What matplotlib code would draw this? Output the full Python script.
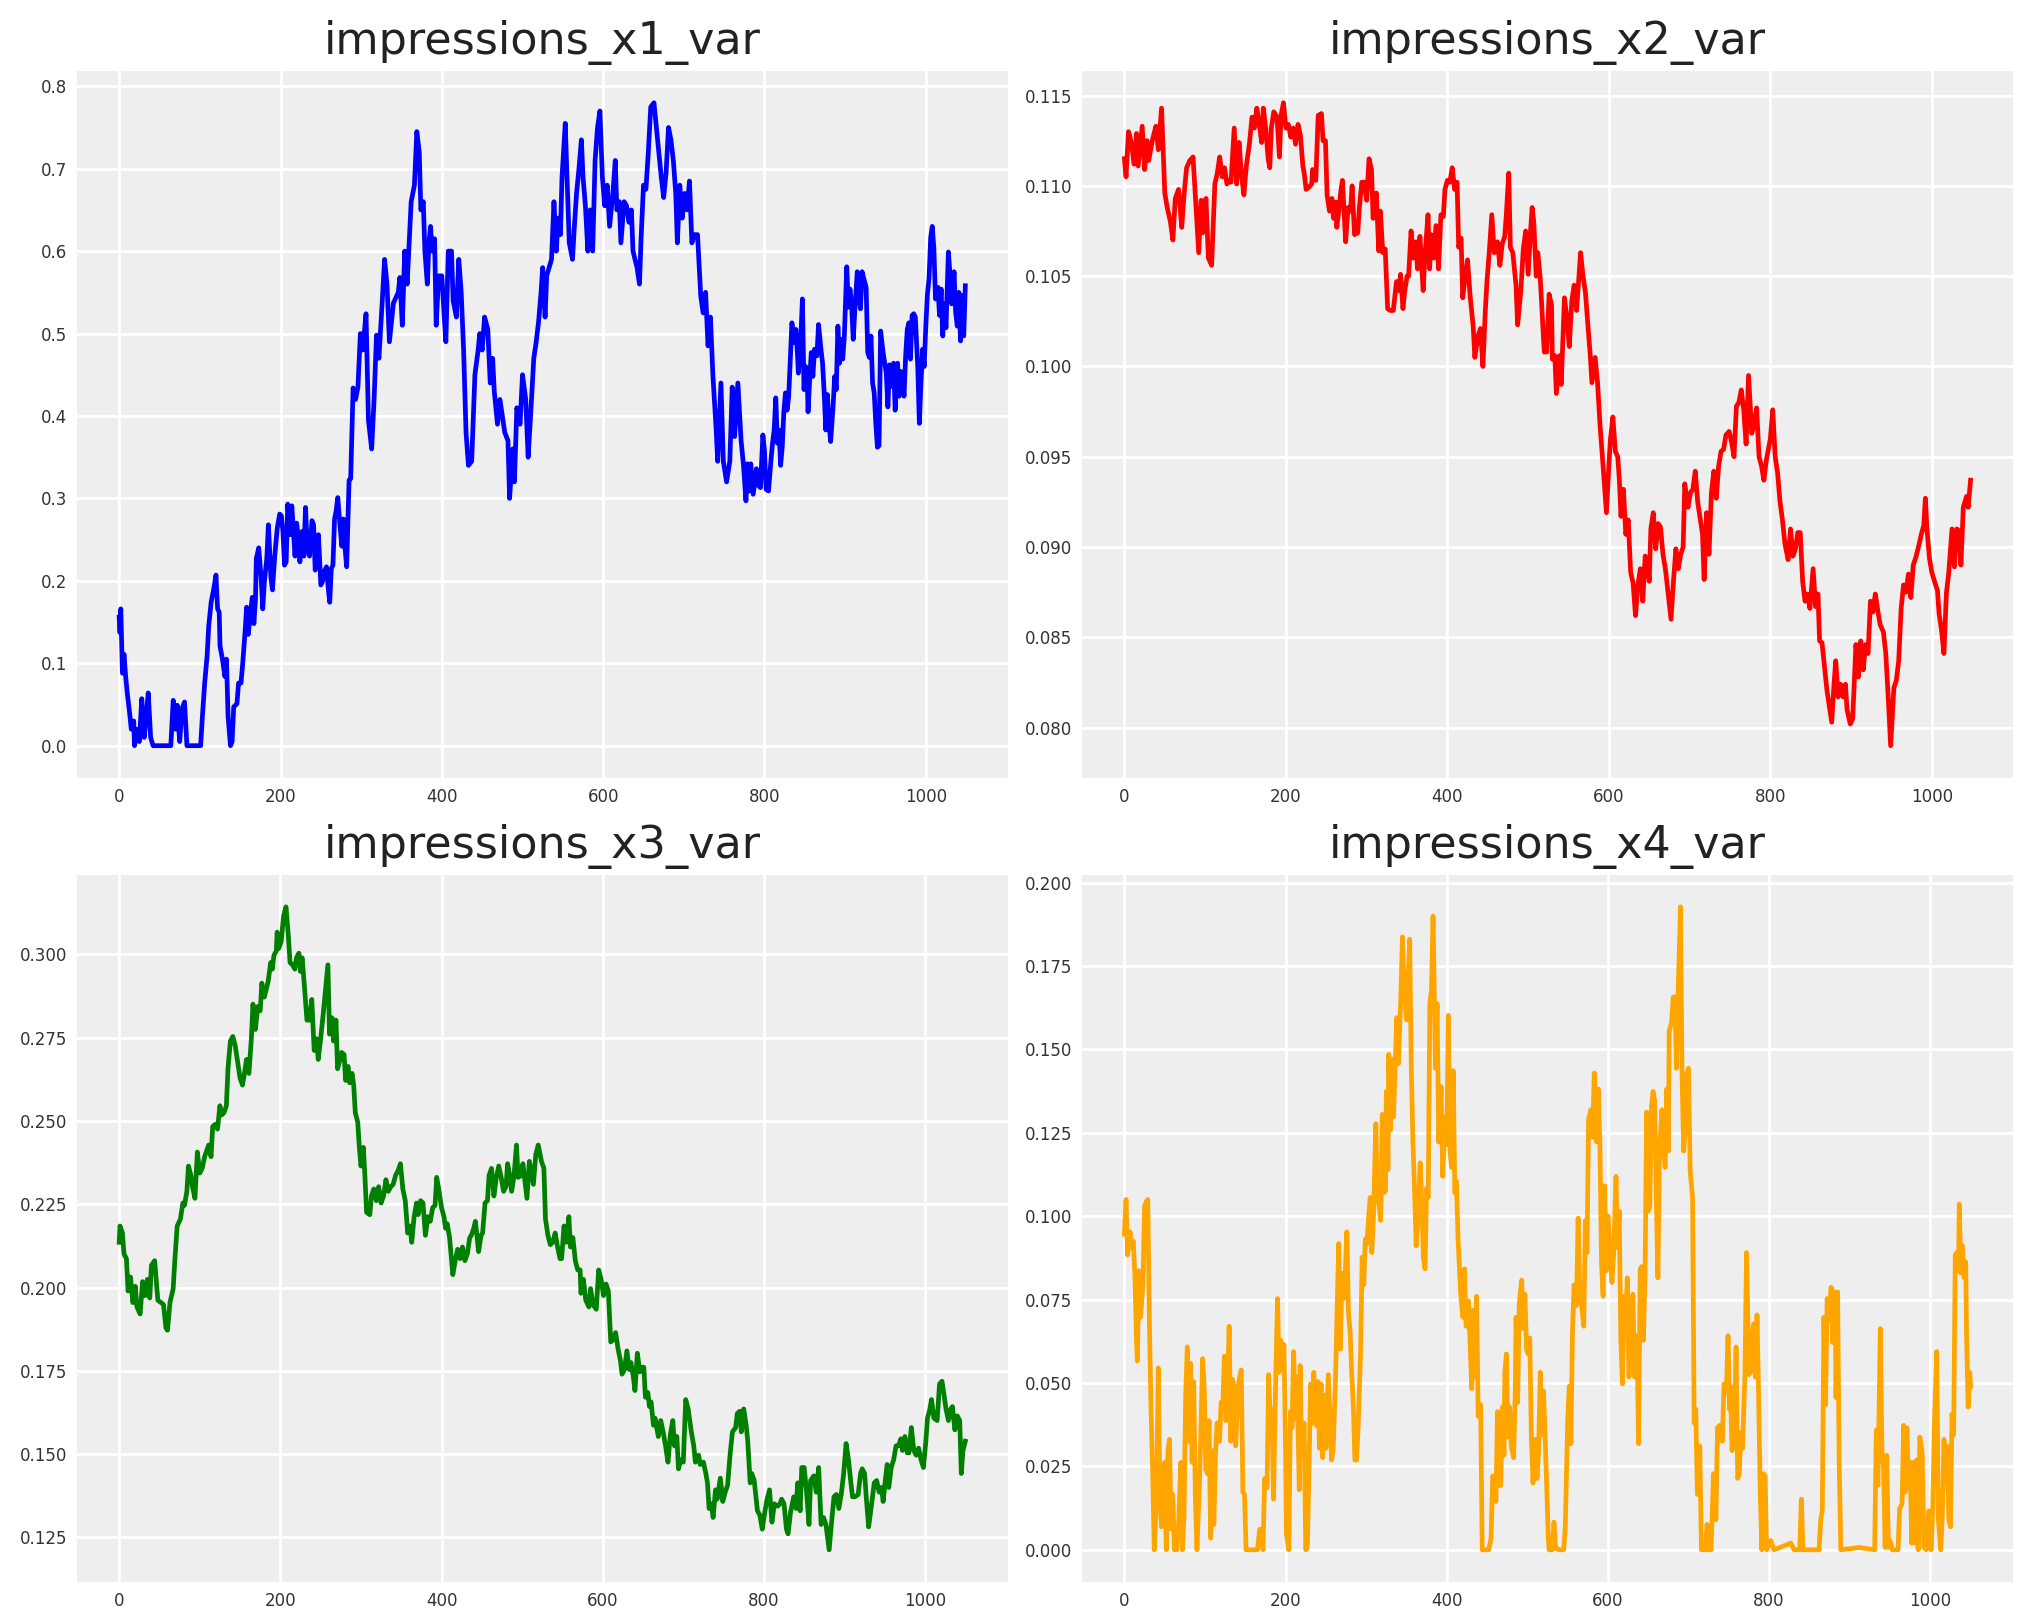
import matplotlib
matplotlib.use("Agg")
import matplotlib.pyplot as plt

titles = ["impressions_x1_var", "impressions_x2_var", "impressions_x3_var", "impressions_x4_var"]
colors = ["blue", "red", "green", "orange"]

x1_idx = [0,1,2,4,6,8,10,13,15,18,19,22,25,28,31,33,36,39,42,50,58,64,67,70,72,75,78,81,84,92,101,103,106,109,111,114,117,120,122,124,125,128,131,133,135,138,140,142,146,148,151,153,156,158,160,162,165,167,169,170,173,176,178,180,183,185,188,190,193,196,199,201,203,205,207,209,212,214,218,220,222,224,227,229,231,233,236,239,241,243,245,247,250,252,254,257,259,261,263,265,267,269,271,274,276,278,280,282,285,287,290,293,296,299,302,306,309,313,316,319,322,326,329,332,335,340,346,348,351,354,357,360,362,366,369,372,374,377,379,382,384,386,388,391,393,396,400,403,405,408,412,414,418,421,424,427,430,433,437,441,445,447,450,453,457,460,463,465,469,472,475,478,482,484,488,490,493,497,500,504,507,510,514,517,520,523,525,528,530,533,536,539,542,544,547,549,553,555,558,562,564,567,570,573,575,578,581,584,587,590,593,596,599,602,605,608,612,615,617,620,622,626,629,632,635,637,642,645,647,650,653,656,659,663,666,669,672,675,678,681,684,687,690,692,695,698,701,704,707,710,713,717,721,724,727,730,733,736,740,742,746,749,753,757,760,763,767,771,774,777,779,781,783,786,790,792,795,798,800,802,805,808,810,812,814,816,818,820,822,824,826,828,830,832,834,837,839,841,842,845,847,849,851,853,854,856,858,860,862,865,867,870,872,874,876,878,880,882,885,887,889,891,893,895,897,899,902,904,906,908,910,912,915,917,919,921,923,926,928,930,932,934,936,938,940,942,944,947,951,953,955,957,960,962,965,967,969,971,973,975,977,979,981,983,985,987,990,992,994,996,998,1000,1002,1004,1006,1008,1010,1012,1015,1017,1019,1021,1023,1025,1028,1030,1032,1035,1037,1039,1041,1043,1045,1047,1049]
x1_val = [0.156,0.137,0.166,0.088,0.111,0.084,0.064,0.039,0.02,0.03,0.0,0.02,0.005,0.057,0.01,0.03,0.064,0.01,0.0,0.0,0.0,0.0,0.055,0.02,0.049,0.005,0.045,0.053,0.0,0.0,0.0,0.033,0.076,0.109,0.145,0.174,0.189,0.207,0.166,0.162,0.121,0.105,0.084,0.105,0.035,0.0,0.005,0.047,0.051,0.076,0.076,0.098,0.137,0.168,0.135,0.154,0.18,0.148,0.178,0.227,0.24,0.203,0.166,0.199,0.227,0.268,0.205,0.189,0.232,0.264,0.281,0.279,0.26,0.219,0.223,0.293,0.256,0.291,0.23,0.27,0.254,0.223,0.26,0.23,0.289,0.244,0.23,0.273,0.268,0.213,0.236,0.256,0.195,0.199,0.211,0.217,0.193,0.174,0.215,0.219,0.275,0.285,0.301,0.264,0.242,0.275,0.24,0.217,0.322,0.324,0.434,0.42,0.435,0.5,0.48,0.524,0.395,0.36,0.42,0.498,0.47,0.537,0.59,0.56,0.49,0.537,0.55,0.568,0.51,0.6,0.56,0.62,0.66,0.68,0.745,0.72,0.65,0.66,0.6,0.56,0.61,0.63,0.6,0.615,0.51,0.57,0.57,0.52,0.49,0.6,0.6,0.54,0.52,0.59,0.55,0.48,0.38,0.34,0.345,0.45,0.48,0.5,0.48,0.52,0.505,0.44,0.47,0.43,0.39,0.42,0.4,0.38,0.37,0.3,0.36,0.32,0.41,0.39,0.45,0.42,0.35,0.4,0.47,0.49,0.515,0.55,0.58,0.52,0.57,0.58,0.59,0.66,0.6,0.64,0.62,0.69,0.755,0.695,0.61,0.59,0.625,0.67,0.7,0.735,0.69,0.655,0.6,0.65,0.6,0.71,0.75,0.77,0.69,0.655,0.68,0.63,0.67,0.71,0.65,0.66,0.61,0.66,0.655,0.635,0.65,0.6,0.58,0.56,0.615,0.68,0.675,0.72,0.775,0.78,0.75,0.72,0.69,0.665,0.695,0.75,0.735,0.71,0.67,0.61,0.68,0.64,0.67,0.65,0.685,0.61,0.62,0.62,0.545,0.525,0.55,0.485,0.52,0.45,0.385,0.345,0.44,0.345,0.32,0.345,0.435,0.375,0.44,0.37,0.34,0.297,0.342,0.309,0.342,0.305,0.336,0.316,0.313,0.377,0.358,0.311,0.309,0.346,0.367,0.383,0.422,0.367,0.383,0.34,0.362,0.405,0.428,0.407,0.424,0.469,0.513,0.489,0.505,0.473,0.452,0.493,0.542,0.432,0.46,0.448,0.405,0.444,0.477,0.448,0.481,0.473,0.511,0.481,0.464,0.428,0.383,0.426,0.391,0.369,0.411,0.448,0.432,0.509,0.464,0.493,0.469,0.497,0.581,0.532,0.554,0.534,0.493,0.528,0.575,0.546,0.53,0.575,0.567,0.556,0.477,0.471,0.497,0.44,0.428,0.391,0.362,0.364,0.503,0.477,0.452,0.411,0.462,0.436,0.464,0.407,0.464,0.424,0.454,0.448,0.424,0.473,0.505,0.513,0.469,0.522,0.524,0.52,0.46,0.391,0.44,0.481,0.46,0.509,0.548,0.567,0.616,0.63,0.603,0.542,0.556,0.522,0.554,0.497,0.536,0.507,0.599,0.571,0.536,0.575,0.526,0.509,0.55,0.491,0.546,0.497,0.558]

x2_idx = [0,2,5,7,10,12,15,17,22,25,28,30,35,39,42,46,48,50,53,57,60,63,67,69,71,74,77,81,85,87,92,95,97,101,104,108,112,115,118,121,124,127,130,132,136,139,142,145,148,151,155,158,161,164,167,170,172,175,178,180,182,185,189,192,194,197,200,203,206,209,212,215,218,221,223,225,228,232,233,237,240,244,246,249,251,254,257,259,262,263,266,268,270,274,277,280,282,285,289,291,294,297,300,303,306,308,312,315,317,320,323,326,329,333,337,340,342,345,347,350,352,355,358,361,363,366,370,372,376,378,380,383,386,389,392,395,397,400,403,406,409,412,414,417,419,422,425,428,432,434,438,441,444,447,449,452,455,458,462,465,468,471,473,476,478,481,485,487,491,494,497,500,503,505,507,510,512,515,518,520,523,526,529,530,533,535,539,541,545,548,551,554,557,560,563,565,568,571,574,577,579,583,586,589,592,595,597,600,602,605,608,611,613,615,618,621,624,627,630,633,636,639,642,645,648,650,652,655,658,661,664,667,670,673,677,680,683,686,689,692,694,698,701,704,707,710,713,716,718,721,724,727,730,733,736,739,742,745,749,752,755,758,761,764,767,770,773,777,780,783,786,789,792,795,800,803,806,809,812,815,818,822,825,828,831,834,837,840,843,846,849,853,856,859,861,864,867,870,873,876,879,881,884,887,890,893,895,899,902,906,909,912,915,918,921,924,927,930,933,936,940,943,946,949,953,956,959,962,965,968,971,974,977,980,984,987,990,992,994,997,1000,1004,1007,1009,1012,1015,1018,1021,1025,1028,1031,1034,1036,1039,1043,1045,1048]
x2_val = [0.1115,0.1105,0.113,0.1127,0.1119,0.1112,0.1129,0.1111,0.1133,0.1109,0.1125,0.1114,0.1126,0.1133,0.112,0.1143,0.1119,0.1096,0.1088,0.108,0.107,0.1093,0.1098,0.1088,0.1077,0.1096,0.111,0.1114,0.1116,0.1101,0.1063,0.1092,0.1074,0.1093,0.106,0.1056,0.1101,0.1107,0.1116,0.1105,0.111,0.1101,0.1103,0.1102,0.1132,0.1101,0.1124,0.1106,0.1095,0.1111,0.1124,0.1138,0.1132,0.1143,0.1134,0.1124,0.1143,0.1132,0.1115,0.111,0.1132,0.1141,0.1138,0.1116,0.1139,0.1146,0.1132,0.1134,0.1127,0.1132,0.1123,0.1134,0.1128,0.1111,0.1106,0.1098,0.1099,0.1101,0.1109,0.1103,0.1139,0.114,0.1125,0.1125,0.1095,0.1086,0.1093,0.1082,0.1091,0.1077,0.1088,0.1097,0.1103,0.1069,0.1088,0.1086,0.11,0.1073,0.1074,0.1088,0.1102,0.1102,0.1092,0.1115,0.1109,0.1082,0.1096,0.1064,0.1086,0.1063,0.1065,0.1032,0.1031,0.1031,0.1047,0.1042,0.1051,0.1032,0.1041,0.105,0.105,0.1075,0.106,0.1069,0.1054,0.1072,0.1042,0.106,0.1084,0.1054,0.1073,0.106,0.1078,0.1054,0.1084,0.1083,0.1098,0.1103,0.1102,0.111,0.1098,0.1102,0.1066,0.1071,0.1038,0.105,0.1059,0.104,0.1022,0.1005,0.1017,0.1021,0.1,0.1031,0.1047,0.1064,0.1084,0.1063,0.1069,0.1056,0.1068,0.1072,0.1084,0.1107,0.1066,0.1063,0.1045,0.1023,0.1042,0.1065,0.1075,0.1051,0.1075,0.1088,0.108,0.105,0.1063,0.1049,0.1025,0.1008,0.1008,0.104,0.1034,0.1004,0.1006,0.0985,0.1006,0.099,0.1038,0.1027,0.1011,0.1036,0.1045,0.1031,0.105,0.1063,0.105,0.1041,0.1023,0.1006,0.0991,0.1005,0.0991,0.0968,0.095,0.0931,0.0919,0.0945,0.096,0.0972,0.0953,0.095,0.0937,0.0917,0.0932,0.0907,0.0915,0.0886,0.088,0.0862,0.0879,0.0888,0.087,0.0895,0.0891,0.0881,0.091,0.0919,0.0899,0.0913,0.0911,0.0896,0.0888,0.0876,0.086,0.0881,0.0899,0.0888,0.0896,0.09,0.0935,0.0922,0.093,0.0932,0.0942,0.0925,0.0916,0.0907,0.0882,0.0919,0.0896,0.093,0.0942,0.0927,0.0945,0.0953,0.0954,0.0962,0.0964,0.0958,0.095,0.0978,0.098,0.0987,0.0976,0.0957,0.0995,0.0963,0.0968,0.0977,0.095,0.0945,0.0937,0.0948,0.096,0.0976,0.095,0.0941,0.0925,0.0915,0.0902,0.0893,0.091,0.0895,0.0899,0.0908,0.0908,0.0881,0.087,0.0874,0.0866,0.0888,0.0867,0.0874,0.0848,0.0847,0.0834,0.0821,0.0812,0.0803,0.0825,0.0837,0.0817,0.0824,0.0817,0.0824,0.081,0.0802,0.0805,0.0846,0.0828,0.0848,0.0832,0.0846,0.0841,0.087,0.0864,0.0874,0.0865,0.0857,0.0853,0.0841,0.0817,0.079,0.0822,0.0826,0.0837,0.0866,0.0879,0.0875,0.0885,0.0872,0.089,0.0894,0.0901,0.0907,0.0912,0.0927,0.091,0.0894,0.0886,0.088,0.0876,0.0863,0.0854,0.0841,0.0874,0.0886,0.091,0.0889,0.091,0.0909,0.089,0.0922,0.0928,0.0922,0.0937]

x3_idx = [0,1,4,6,9,11,14,17,20,22,26,29,32,35,38,40,44,48,52,55,58,60,63,67,69,72,76,79,81,84,86,89,91,94,97,100,103,106,109,111,114,116,119,122,125,127,130,133,135,138,141,144,147,150,153,155,158,161,164,166,169,172,175,177,180,183,185,188,190,192,195,196,198,201,204,207,210,212,215,218,220,223,225,227,230,233,236,239,242,245,247,250,253,256,259,261,264,266,269,271,274,276,279,281,284,286,289,291,293,296,298,300,303,305,307,311,313,316,319,322,325,328,331,334,337,340,343,346,349,352,355,358,361,363,366,369,371,374,377,380,383,386,389,392,394,397,400,403,405,407,410,414,417,420,423,426,429,432,435,437,440,442,446,449,451,454,457,459,462,465,468,471,474,477,480,482,485,487,490,493,495,498,501,503,506,509,511,514,517,520,524,527,529,532,535,538,541,544,547,549,552,555,558,560,563,566,569,572,573,576,579,583,585,588,592,595,598,601,604,607,610,613,616,619,622,624,627,630,633,635,638,640,643,646,649,651,653,656,658,660,663,665,669,672,675,678,681,684,687,689,692,694,697,700,703,706,710,713,715,719,721,725,728,730,732,735,737,740,742,746,749,752,755,758,761,765,767,770,772,775,778,780,783,785,788,792,795,798,801,804,807,810,813,817,820,822,825,828,830,833,837,840,842,845,847,850,853,856,858,862,865,868,871,874,877,881,884,887,890,893,896,899,902,905,908,910,913,917,920,922,925,927,930,933,937,940,943,946,948,951,953,955,958,961,964,967,970,972,975,978,980,983,986,989,992,995,998,1001,1003,1006,1008,1011,1015,1018,1021,1024,1026,1029,1032,1034,1037,1040,1043,1045,1047,1050]
x3_val = [0.2136,0.2185,0.2164,0.2101,0.2087,0.199,0.2032,0.1955,0.2004,0.1942,0.1921,0.2018,0.1976,0.2025,0.1969,0.2067,0.2081,0.1962,0.1955,0.1949,0.1879,0.1872,0.1955,0.1997,0.2081,0.2185,0.2206,0.2254,0.2247,0.2289,0.2365,0.2337,0.2303,0.2268,0.2407,0.2344,0.2358,0.2393,0.2414,0.2428,0.2393,0.2483,0.249,0.2476,0.2546,0.2518,0.2525,0.2546,0.2657,0.274,0.2754,0.2726,0.2678,0.2629,0.2608,0.2636,0.2685,0.2643,0.2747,0.2851,0.2775,0.2844,0.2831,0.2914,0.2872,0.29,0.2921,0.2976,0.2956,0.2997,0.3011,0.3067,0.3018,0.3039,0.3115,0.3143,0.3053,0.2976,0.2969,0.2956,0.299,0.3004,0.2949,0.299,0.29,0.2803,0.2803,0.2865,0.2712,0.2747,0.2685,0.2747,0.2817,0.2893,0.2969,0.2761,0.281,0.274,0.2803,0.2657,0.2685,0.2706,0.27,0.2622,0.2664,0.2615,0.2643,0.2608,0.2525,0.2497,0.2421,0.2365,0.2421,0.2331,0.2226,0.2219,0.2275,0.2296,0.2261,0.2303,0.2254,0.2275,0.2324,0.2289,0.2303,0.231,0.2337,0.2351,0.2372,0.2296,0.2261,0.2164,0.2185,0.2136,0.2213,0.2254,0.2219,0.2261,0.2254,0.2157,0.2213,0.2199,0.224,0.2247,0.2331,0.2289,0.224,0.2213,0.2178,0.2192,0.215,0.2039,0.2081,0.2115,0.2087,0.2122,0.2081,0.2101,0.215,0.2157,0.2178,0.2199,0.2108,0.2157,0.2164,0.2254,0.2261,0.2337,0.2358,0.2275,0.2331,0.2365,0.2331,0.2289,0.2303,0.2372,0.2331,0.2289,0.2337,0.2428,0.2331,0.2335,0.2372,0.2331,0.2268,0.2379,0.2351,0.231,0.24,0.2428,0.2379,0.2358,0.2206,0.2157,0.2129,0.2136,0.2164,0.2122,0.2087,0.2087,0.2185,0.2136,0.2213,0.2122,0.215,0.2081,0.2053,0.2053,0.1983,0.2025,0.1962,0.1942,0.1997,0.1949,0.1935,0.2053,0.2025,0.1976,0.2011,0.199,0.1837,0.1844,0.1865,0.1817,0.1781,0.174,0.1754,0.181,0.1754,0.1775,0.1733,0.1691,0.1803,0.1747,0.1761,0.1761,0.1671,0.1685,0.1643,0.1657,0.1587,0.1608,0.1553,0.1601,0.1567,0.1525,0.1476,0.156,0.1601,0.1525,0.1553,0.1456,0.1483,0.1476,0.1664,0.1636,0.1567,0.1525,0.1476,0.1497,0.1469,0.1476,0.1442,0.1414,0.1337,0.1351,0.131,0.1393,0.1365,0.1428,0.1358,0.1386,0.1407,0.1497,0.1567,0.158,0.1622,0.1629,0.1567,0.1636,0.1587,0.1539,0.1414,0.1442,0.1421,0.133,0.1317,0.1275,0.1324,0.1365,0.1393,0.1296,0.1351,0.1344,0.1351,0.1365,0.1351,0.1275,0.1261,0.1324,0.1372,0.1337,0.1414,0.133,0.146,0.146,0.1386,0.1289,0.1421,0.1435,0.1386,0.146,0.1289,0.131,0.1289,0.1213,0.1296,0.1372,0.1379,0.1337,0.1379,0.1442,0.1532,0.1483,0.1414,0.1372,0.1372,0.1379,0.1442,0.1456,0.1442,0.1372,0.1282,0.1337,0.1414,0.1421,0.1386,0.14,0.1358,0.1428,0.1469,0.14,0.146,0.1483,0.1525,0.1525,0.1546,0.1511,0.1553,0.1504,0.1504,0.158,0.1511,0.1497,0.1518,0.1483,0.146,0.1539,0.1608,0.1636,0.1664,0.1608,0.1601,0.1711,0.1719,0.1671,0.1636,0.1601,0.1636,0.1643,0.1573,0.1615,0.1601,0.1442,0.1511,0.1539]

x4_idx = [0,2,4,7,9,11,13,15,16,18,20,23,25,27,29,31,33,35,37,40,42,44,46,48,50,52,54,56,58,60,62,65,67,70,72,74,76,78,80,82,84,86,88,90,93,95,97,99,101,103,105,107,109,111,113,115,118,120,122,124,126,128,130,132,134,136,138,140,142,145,147,149,151,158,165,168,170,172,174,177,179,181,183,185,188,190,192,194,196,198,200,201,204,206,208,210,212,214,217,218,220,223,225,227,229,231,233,235,238,240,242,244,246,248,250,253,255,257,259,262,264,266,268,270,272,274,276,278,280,282,284,286,288,290,293,295,297,299,301,303,305,307,309,312,314,315,318,320,322,324,325,327,328,330,332,334,336,338,340,343,345,347,350,352,354,356,358,360,362,365,367,369,371,373,375,377,379,381,383,386,388,390,393,395,398,400,402,404,406,408,410,412,414,417,418,420,422,424,427,429,431,433,436,437,439,442,444,448,452,455,457,459,461,463,465,467,469,471,472,474,476,478,480,483,485,486,488,490,493,495,497,499,501,503,505,507,510,512,514,516,518,520,522,524,526,527,531,533,535,539,545,547,550,552,554,556,558,561,563,565,567,570,572,574,576,579,581,583,586,588,590,592,594,596,598,600,602,605,607,610,612,614,616,618,620,622,624,626,629,631,633,636,638,640,642,644,646,648,650,652,654,656,658,660,662,664,667,669,671,673,675,676,679,681,683,685,687,689,690,692,694,696,698,700,702,705,707,709,711,714,716,721,723,725,728,731,734,736,739,742,744,747,749,751,752,754,757,759,761,763,765,767,770,772,775,777,779,781,783,785,787,789,791,793,795,797,802,806,827,831,838,840,842,862,864,866,868,870,872,874,877,879,882,883,885,887,889,912,931,933,935,938,940,942,944,946,948,950,953,960,962,965,967,969,971,973,975,977,979,981,983,985,987,990,992,995,998,1001,1003,1005,1008,1010,1013,1015,1017,1019,1021,1023,1025,1027,1029,1031,1033,1035,1036,1038,1040,1042,1044,1045,1047,1049,1050]
x4_val = [0.0946,0.105,0.0884,0.0953,0.0905,0.0925,0.0822,0.0628,0.0566,0.0836,0.0697,0.0794,0.1029,0.1043,0.105,0.0684,0.0421,0.0242,0.0,0.0159,0.0545,0.0173,0.0069,0.0228,0.0262,0.0,0.0297,0.0331,0.0062,0.0166,0.0,0.0,0.0062,0.0262,0.0,0.0104,0.0463,0.0608,0.0325,0.0559,0.0262,0.0504,0.0159,0.0,0.0186,0.0366,0.0573,0.049,0.0242,0.0228,0.0387,0.0035,0.0297,0.0076,0.0283,0.038,0.0325,0.0442,0.0421,0.058,0.0387,0.0504,0.067,0.0325,0.0511,0.049,0.0311,0.0421,0.0504,0.0539,0.0173,0.0166,0.0,0.0,0.0,0.0062,0.0035,0.0,0.0214,0.0186,0.0525,0.0394,0.0421,0.0152,0.0545,0.0753,0.0532,0.0628,0.0573,0.0615,0.029,0.0048,0.0,0.0414,0.0366,0.0594,0.0394,0.0518,0.018,0.0552,0.0283,0.038,0.0,0.0007,0.0235,0.0497,0.038,0.0532,0.0373,0.0504,0.0304,0.0497,0.0276,0.0463,0.0304,0.0525,0.0394,0.0269,0.0297,0.0518,0.0732,0.0918,0.0601,0.0829,0.0753,0.0829,0.0953,0.0711,0.0656,0.0532,0.0435,0.0269,0.0269,0.0366,0.0587,0.0877,0.0794,0.0932,0.0918,0.0994,0.1056,0.0891,0.0994,0.1277,0.1043,0.1056,0.0987,0.1305,0.107,0.1077,0.1374,0.1139,0.1485,0.1257,0.1471,0.1298,0.1457,0.1595,0.1457,0.1657,0.1837,0.1692,0.1588,0.1712,0.183,0.1443,0.1222,0.1084,0.0911,0.1029,0.116,0.1043,0.0877,0.0842,0.1084,0.1056,0.1637,0.1678,0.1899,0.1443,0.1637,0.1222,0.1388,0.1119,0.1298,0.1215,0.1602,0.1195,0.1146,0.1436,0.107,0.1105,0.0932,0.078,0.0746,0.0697,0.0842,0.067,0.0746,0.0615,0.0483,0.0718,0.0518,0.076,0.04,0.0435,0.0,0.0,0.0,0.0035,0.0221,0.0221,0.0145,0.0414,0.0193,0.0193,0.0428,0.0283,0.0532,0.0587,0.0338,0.0428,0.0311,0.0276,0.0476,0.0697,0.0442,0.0739,0.0808,0.0663,0.0766,0.0601,0.0587,0.0635,0.0338,0.02,0.0331,0.0214,0.0297,0.0532,0.0345,0.0476,0.0345,0.0186,0.0035,0.0,0.0,0.0083,0.0007,0.0,0.0,0.0062,0.038,0.049,0.0318,0.0656,0.0794,0.0732,0.0994,0.078,0.0739,0.067,0.0987,0.0891,0.1291,0.1319,0.1236,0.1429,0.1222,0.1381,0.1222,0.0863,0.076,0.1091,0.0836,0.1001,0.0918,0.0801,0.0884,0.1119,0.0905,0.1015,0.0628,0.0497,0.076,0.067,0.0815,0.0518,0.058,0.0766,0.0518,0.0642,0.0318,0.0842,0.0849,0.0628,0.0808,0.1312,0.1015,0.1029,0.1326,0.1374,0.1346,0.1056,0.0815,0.1195,0.1319,0.1208,0.1146,0.1381,0.1195,0.1554,0.1581,0.1657,0.1657,0.1443,0.1664,0.183,0.1927,0.1416,0.1195,0.1264,0.1429,0.1443,0.1139,0.1056,0.038,0.0421,0.0166,0.0311,0.0,0.0,0.0076,0.0,0.0,0.0228,0.009,0.0366,0.0373,0.0325,0.0497,0.047,0.0642,0.0421,0.049,0.0297,0.0366,0.0608,0.0214,0.0228,0.0352,0.0304,0.0525,0.0891,0.0525,0.0532,0.0642,0.0677,0.0518,0.0704,0.0456,0.0173,0.0,0.0228,0.0221,0.0,0.0028,0.0,0.002,0.0,0.0,0.0152,0.0,0.0,0.009,0.0117,0.0697,0.0435,0.0753,0.0691,0.0787,0.0621,0.0773,0.0456,0.0773,0.0255,0.0,0.0007,0.0,0.0359,0.0193,0.0663,0.0297,0.0249,0.0007,0.0283,0.0007,0.0028,0.0,0.0,0.0124,0.0138,0.0373,0.0173,0.0366,0.0186,0.0262,0.002,0.0262,0.002,0.0269,0.0,0.0338,0.029,0.0007,0.0,0.0117,0.0,0.0117,0.0366,0.0594,0.009,0.0,0.0104,0.0331,0.02,0.0311,0.009,0.0069,0.0407,0.0345,0.0884,0.0891,0.0836,0.1036,0.0829,0.0911,0.0815,0.0863,0.0642,0.0428,0.0532,0.049]

series = [(x1_idx, x1_val), (x2_idx, x2_val), (x3_idx, x3_val), (x4_idx, x4_val)]

plt.rcParams.update({
    "font.family": ["DejaVu Sans"],
    "axes.facecolor": "#eeeeee",
    "axes.edgecolor": "#eeeeee",
    "axes.grid": True,
    "grid.color": "white",
    "grid.linewidth": 1.0,
    "axes.axisbelow": True,
    "xtick.major.size": 0,
    "ytick.major.size": 0,
    "xtick.labelsize": 6,
    "ytick.labelsize": 6,
    "xtick.color": "#333333",
    "ytick.color": "#333333",
    "axes.titlesize": 16,
    "axes.titlecolor": "#222222",
})

fig, axes = plt.subplots(2, 2, figsize=(2023 / 200, 1623 / 200), dpi=200)
fig.subplots_adjust(left=0.038, right=0.995, top=0.9565, bottom=0.0253, wspace=0.08, hspace=0.137)

for ax, (xs, ys), title, color in zip(axes.flat, series, titles, colors):
    ax.plot(xs, ys, color=color, linewidth=1.7)
    ax.set_title(title)
    for s in ax.spines.values():
        s.set_visible(False)

fig.savefig("out.png", dpi=200)
